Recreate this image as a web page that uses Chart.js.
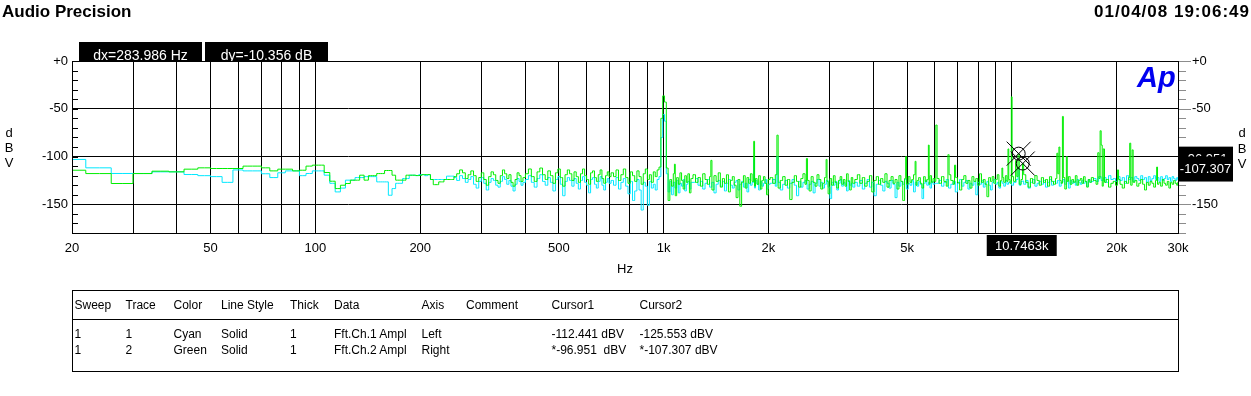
<!DOCTYPE html>
<html>
<head>
<meta charset="utf-8">
<title>Audio Precision FFT</title>
<script src="https://cdn.jsdelivr.net/npm/chart.js@4.4.1/dist/chart.umd.min.js"></script>
<style>
    body { margin: 0; background: #fff; }
    #wrap { position: relative; width: 1251px; height: 396px; overflow: hidden; font-family: 'Liberation Sans', Arial, sans-serif; color: #000; }
    #apChart { position: absolute; left: 0; top: 0; }
    .abs { position: absolute; white-space: pre; }
    .title { left: 2px; top: 2.6px; font-size: 17px; line-height: 17px; font-weight: bold; }
    .date { right: 1px; top: 2.9px; font-size: 17px; line-height: 17px; font-weight: bold; letter-spacing: 1px; }
    .readout { top: 42px; width: 123px; height: 19px; background: #000; color: #fff; font-size: 14px; line-height: 26px; text-align: center; overflow: hidden; }
    .logo { left: 1137px; top: 63px; font-size: 29px; line-height: 29px; font-weight: bold; font-style: italic; color: #0000f0; }
    .unit { width: 14px; text-align: center; font-size: 13px; line-height: 13px; }
    .hz { left: 605px; top: 262px; width: 40px; text-align: center; font-size: 13px; line-height: 13px; }
    .table { left: 72px; top: 290px; width: 1107px; height: 82px; box-sizing: border-box; border: 1px solid #000; }
    .sep { left: 72px; top: 319px; width: 1107px; height: 1px; background: #000; }
    .cell { font-size: 12px; line-height: 12px; }
</style>
</head>
<body>
<div id="wrap">
    <canvas id="apChart" width="1251" height="396"></canvas>

    <div class="abs title">Audio Precision</div>
    <div class="abs date">01/04/08 19:06:49</div>
    <div class="abs readout" style="left:79px">dx=283.986 Hz</div>
    <div class="abs readout" style="left:205px">dy=-10.356 dB</div>
    <div class="abs logo">Ap</div>

    <div class="abs unit" style="left:2px;top:126px">d</div>
    <div class="abs unit" style="left:2px;top:141px">B</div>
    <div class="abs unit" style="left:2px;top:156px">V</div>
    <div class="abs unit" style="left:1235px;top:125.7px">d</div>
    <div class="abs unit" style="left:1235px;top:141.7px">B</div>
    <div class="abs unit" style="left:1235px;top:157.3px">V</div>
    <div class="abs hz">Hz</div>

    <div class="abs table"></div>
    <div class="abs sep"></div>
    <div id="legendTable"></div>
</div>

<script>
// ---- data ----

// low end: 4 Hz FFT bins, drawn as steps
const freqLow = [20, 24, 28, 32, 36, 40, 44, 48, 52, 56,
    60, 64, 68, 72, 76, 80, 84, 88, 92, 96,
    100, 104, 108, 112, 116, 120, 124, 128, 132, 136,
    140, 144, 148, 152, 156, 160, 164, 168, 172, 176,
    180, 184, 188, 192, 196, 200, 204, 208, 212, 216,
    220, 224, 228, 232, 236, 240, 244, 248];

const cyanLow = [-103, -111.8, -117.7, -117.7, -116, -116, -118.8, -120, -121, -127,
    -114, -115, -115, -118, -122, -117, -115, -115, -120, -117.7,
    -115, -115, -119.5, -128, -137, -133, -124.7, -124.7, -122, -122,
    -121, -121, -121, -126.5, -126.5, -126.5, -140.5, -133.5, -128, -128,
    -123, -123, -119.5, -119.5, -120, -119, -118.9, -120, -119, -124,
    -124, -124, -124, -124, -124, -120.5, -120.5, -120.5];

const greenLow = [-114.3, -117.8, -128.2, -117.8, -115.3, -116, -113.2, -111.8, -112.5, -112.5,
    -112.5, -110, -110, -111.8, -115, -113.2, -113.2, -115, -114.3, -110,
    -109, -109, -116.7, -125.8, -133.5, -130, -128.2, -124.7, -124.7, -119.5,
    -124.7, -120, -120, -117.8, -117.8, -114.6, -114.6, -119.5, -124.7, -124.7,
    -124.7, -119.5, -119.5, -119.5, -119.8, -119.8, -118.9, -118.9, -118.9, -124,
    -129.4, -129.4, -126.5, -126.5, -124, -124, -124, -124];

// upper part: thinned noise floor
const freqHigh = [
    252, 257, 262, 267, 272, 277, 282, 287, 292, 297, 302, 307, 312, 317, 322, 327, 332, 337, 342, 347,
    352, 357, 362, 367, 372, 377, 382, 387, 392, 397,
    405, 413, 421, 429, 437, 445, 453, 461, 469, 477, 485, 493, 501, 509, 517, 525, 533, 541, 549, 557,
    565, 573, 581, 589, 597, 605, 613, 621, 629, 637, 645, 653, 661, 669, 677, 685, 693, 701,
    712, 724, 736, 748, 760, 772, 784, 796, 808, 820, 832, 844, 856, 868, 880, 892, 904, 916, 928, 940,
    952, 964, 976, 988, 1000, 1012, 1024, 1036, 1048, 1060, 1072, 1084, 1096, 1108, 1120, 1132, 1144, 1156, 1168, 1180,
    1192, 1204,
    1225, 1245, 1265, 1285, 1305, 1325, 1345, 1365, 1385, 1405, 1425, 1445, 1465, 1485, 1505, 1525, 1545, 1565, 1585, 1605,
    1625, 1645, 1665, 1685, 1705, 1725, 1745, 1765, 1785, 1805, 1825, 1845, 1865, 1885, 1905, 1925, 1945, 1965, 1985, 2005,
    2040, 2075, 2110, 2145, 2180, 2215, 2250, 2285, 2320, 2355, 2390, 2425, 2460, 2495, 2530, 2565, 2600, 2635, 2670, 2705,
    2740, 2775, 2810, 2845, 2880, 2915, 2950, 2985, 3020, 3055, 3090, 3125, 3160, 3195, 3230, 3265, 3300, 3335, 3370, 3405,
    3440, 3475, 3510,
    3570, 3630, 3690, 3750, 3810, 3870, 3930, 3990, 4050, 4110, 4170, 4230, 4290, 4350, 4410, 4470, 4530, 4590, 4650, 4710,
    4770, 4830, 4890, 4950, 5010, 5070, 5130, 5190, 5250, 5310, 5370, 5430, 5490, 5550, 5610, 5670, 5730, 5790, 5850, 5910,
    5970, 6030,
    6130, 6230, 6330, 6430, 6530, 6630, 6730, 6830, 6930, 7030, 7130, 7230, 7330, 7430, 7530, 7630, 7730, 7830, 7930, 8030,
    8130, 8230, 8330, 8430, 8530, 8630, 8730, 8830, 8930, 9030, 9130, 9230, 9330, 9430, 9530, 9630, 9730, 9830, 9930, 10030,
    10200, 10370, 10540, 10710, 10880, 11050, 11220, 11390, 11560, 11730, 11900, 12070, 12240, 12410, 12580, 12750, 12920, 13090, 13260, 13430,
    13600, 13770, 13940, 14110, 14280, 14450, 14620, 14790, 14960, 15130, 15300, 15470, 15640, 15810, 15980, 16150, 16320, 16490, 16660, 16830,
    17000,
    17300, 17600, 17900, 18200, 18500, 18800, 19100, 19400, 19700, 20000, 20300, 20600, 20900, 21200, 21500, 21800, 22100, 22400, 22700, 23000,
    23300, 23600, 23900, 24200, 24500, 24800, 25100, 25400, 25700, 26000, 26300, 26600, 26900, 27200, 27500, 27800, 28100, 28400, 28700, 29000,
    29300, 29600, 29900, 30000
];

const cyanHigh = [
    -122, -125, -120, -123, -127, -124, -121, -129, -133, -126, -122, -128, -135, -127, -123, -125, -130, -132, -126, -121,
    -124, -129, -125, -131, -136, -129, -123, -126, -130, -127,
    -124, -120, -127, -132, -123, -119, -126, -130, -122, -127, -136, -124, -121, -129, -141, -126, -122, -125, -131, -123,
    -128, -134, -125, -121, -127, -130, -138, -124, -122, -129, -133, -126, -121, -130, -135, -127, -123, -128,
    -125, -130, -122, -134, -127, -123, -131, -139, -126, -146, -136, -124, -135, -156, -127, -131, -151, -126, -133, -129,
    -135, -124, -121, -80, -56, -63, -118, -137, -126, -140, -127, -133, -125, -138, -128, -131, -124, -136, -129, -126,
    -134, -127,
    -127, -123, -130, -126, -134, -128, -124, -132, -127, -138, -129, -125, -131, -126, -136, -128, -124, -130, -133, -127,
    -125, -135, -129, -126, -132, -128, -137, -124, -130, -127, -133, -125, -129, -135, -126, -131, -128, -124, -134, -129,
    -128, -124, -131, -127, -135, -129, -125, -133, -128, -124, -130, -141, -126, -132, -127, -125, -134, -129, -126, -138,
    -128, -124, -131, -127, -133, -129, -125, -132, -144, -127, -130, -126, -135, -128, -124, -131, -127, -129, -136, -125,
    -130, -128, -132,
    -127, -131, -125, -134, -128, -124, -132, -127, -141, -129, -125, -130, -136, -126, -128, -133, -125, -129, -143, -127,
    -131, -126, -129, -124, -134, -128, -130, -125, -137, -127, -131, -126, -129, -144, -128, -125, -130, -127, -133, -126,
    -129, -128,
    -128, -125, -131, -127, -124, -133, -129, -126, -137, -128, -124, -131, -127, -125, -134, -128, -130, -126, -140, -127,
    -129, -125, -132, -128, -126, -130, -135, -127, -124, -129, -127, -133, -126, -128, -131, -125, -129, -127, -126, -130,
    -127, -124, -130, -126, -129, -125, -133, -127, -124, -131, -128, -126, -129, -125, -132, -127, -124, -130, -126, -128,
    -125, -131, -127, -124, -129, -126, -133, -125, -128, -126, -130, -124, -127, -129, -125, -128, -126, -131, -124, -127,
    -126,
    -123, -126, -121, -125, -122, -127, -120, -124, -123, -126, -121, -125, -122, -128, -120, -124, -122, -126, -121, -123,
    -125, -120, -124, -122, -127, -121, -125, -123, -120, -124, -122, -126, -121, -125, -123, -120, -124, -122, -126, -121,
    -123, -125, -122, -124
];

const greenHigh = [
    -121, -118, -114, -117, -123, -119, -115, -120, -126, -122, -117, -124, -130, -121, -116, -119, -125, -128, -120, -114,
    -118, -123, -119, -127, -131, -124, -117, -120, -126, -122,
    -118, -113, -121, -126, -116, -112, -119, -124, -115, -120, -128, -117, -113, -122, -131, -119, -114, -118, -125, -116,
    -121, -127, -118, -113, -120, -124, -129, -117, -115, -122, -126, -119, -114, -123, -128, -120, -116, -121,
    -117, -121, -114, -125, -119, -113, -122, -128, -116, -120, -126, -115, -121, -129, -118, -113, -124, -119, -127, -116,
    -121, -114, -111, -60, -36.5, -43, -112, -146, -124, -131, -118, -141, -122, -129, -117, -125, -134, -120, -127, -118,
    -138, -123,
    -119, -127, -122, -131, -118, -124, -129, -121, -135, -120, -126, -117, -132, -123, -128, -119, -137, -125, -121, -130,
    -143, -124, -152, -127, -120, -133, -122, -128, -118, -126, -131, -123, -129, -120, -134, -125, -121, -128, -140, -124,
    -122, -128, -119, -133, -125, -121, -130, -124, -145, -127, -120, -126, -132, -123, -118, -129, -125, -136, -121, -127,
    -131, -119, -124, -134, -128, -122, -126, -139, -123, -130, -120, -127, -133, -125, -121, -129, -124, -131, -118, -126,
    -135, -122, -128,
    -124, -119, -128, -122, -131, -126, -120, -137, -125, -121, -129, -123, -127, -118, -132, -125, -121, -128, -124, -134,
    -120, -126, -146, -123, -129, -121, -127, -124, -119, -130, -125, -122, -128, -133, -121, -126, -124, -129, -120, -127,
    -123, -126,
    -123, -128, -121, -126, -131, -119, -125, -129, -122, -127, -135, -124, -120, -128, -125, -133, -121, -126, -123, -130,
    -118, -127, -124, -129, -142, -122, -126, -121, -128, -124, -119, -131, -125, -122, -127, -120, -126, -124, -128, -121,
    -126, -121, -129, -124, -119, -127, -132, -123, -128, -120, -125, -130, -122, -127, -124, -131, -121, -126, -129, -123,
    -118, -125, -128, -122, -134, -126, -121, -129, -124, -127, -120, -130, -125, -123, -128, -121, -126, -132, -124, -127,
    -122,
    -125, -129, -123, -131, -127, -124, -132, -128, -126, -130, -124, -129, -133, -126, -128, -122, -130, -127, -125, -131,
    -128, -124, -129, -135, -127, -130, -126, -128, -132, -125, -129, -127, -131, -124, -128, -130, -126, -133, -127, -129,
    -125, -128, -130, -127
];

// harmonics / spurs sticking out of the floor [Hz, dBV]
const greenSpurs = [[1076, -108], [1368, -104], [1824, -84], [2120, -77.6], [2576, -102], [2942, -103],
    [4960, -100], [5300, -105], [5786, -88], [6068, -67], [6576, -98], [6860, -109], [9400, -112],
    [9766, -92], [10000, -37.5], [10300, -104], [10462, -96.951], [10746.3, -107.307], [13500, -96.5],
    [13700, -90], [14000, -58], [14400, -100], [17700, -96], [17950, -73], [18150, -88], [18400, -92],
    [20200, -114], [21800, -86], [22200, -93], [26100, -111]];
const cyanSpurs = [[1824, -102], [2120, -100], [10462, -112.441], [10746.3, -125.553]];

// cursors
const cursorFreq = [10462, 10746.3];
const cursorGreen = [-96.951, -107.307];

// axes
const gridFreqs = [20, 30, 40, 50, 60, 70, 80, 90, 100, 200, 300, 400, 500, 600, 700, 800, 900,
    1000, 2000, 3000, 4000, 5000, 6000, 7000, 8000, 9000, 10000, 20000, 30000];
const xLabelFreqs = [20, 50, 100, 200, 500, 1000, 2000, 5000, 10000, 20000, 30000];
const xLabelText = ['20', '50', '100', '200', '500', '1k', '2k', '5k', '10k', '20k', '30k'];

// legend table rows
const tableCols = [74.5, 125.5, 173.5, 221, 290, 334, 421.5, 466, 551.5, 639.5];
const tableHead = ['Sweep', 'Trace', 'Color', 'Line Style', 'Thick', 'Data', 'Axis', 'Comment', 'Cursor1', 'Cursor2'];
const tableRows = [
    ['1', '1', 'Cyan', 'Solid', '1', 'Fft.Ch.1 Ampl', 'Left', '', '-112.441 dBV', '-125.553 dBV'],
    ['1', '2', 'Green', 'Solid', '1', 'Fft.Ch.2 Ampl', 'Right', '', '*-96.951  dBV', '*-107.307 dBV']
];

const FONT = "'Liberation Sans', Arial, sans-serif";

function buildSeries(lowDb, highDb, spurs) {
    const pts = [];
    freqLow.forEach((f, i) => pts.push({ x: f, y: lowDb[i] }));
    freqHigh.forEach((f, i) => pts.push({ x: f, y: highDb[i] }));
    spurs.forEach(([f, db]) => pts.push({ x: f, y: db }));
    return pts.sort((a, b) => a.x - b.x);
}

function buildTable() {
    const host = document.getElementById('legendTable');
    const tops = [298.5, 327.8, 343.5];
    [tableHead, ...tableRows].forEach((row, r) => {
        row.forEach((txt, c) => {
            if (!txt) return;
            const span = document.createElement('div');
            span.className = 'abs cell';
            span.style.left = tableCols[c] + 'px';
            span.style.top = tops[r] + 'px';
            span.textContent = txt;
            host.appendChild(span);
        });
    });
}

const apDecor = {
    id: 'apDecor',
    afterDatasetsDraw(chart) {
        const { ctx, chartArea: a, scales: { x, y2 } } = chart;
        ctx.save();
        ctx.lineWidth = 1;

        // plot frame
        ctx.strokeStyle = '#000';
        ctx.strokeRect(a.left + 0.5, a.top + 0.5, a.right - a.left, a.bottom - a.top);

        // left ticks (inside, black) and right ticks (outside, grey)
        for (let v = 0; v >= -180; v -= 10) {
            const py = Math.round(y2.getPixelForValue(v)) + 0.5;
            ctx.strokeStyle = '#000';
            ctx.beginPath();
            ctx.moveTo(a.left, py);
            ctx.lineTo(a.left + 6, py);
            ctx.stroke();
            ctx.strokeStyle = '#8c8c8c';
            ctx.beginPath();
            ctx.moveTo(a.right + 1, py);
            ctx.lineTo(a.right + (v % 50 === 0 ? 13 : 8), py);
            ctx.stroke();
        }

        // cursor markers
        ctx.strokeStyle = '#000';
        cursorFreq.forEach((f, i) => {
            const px = x.getPixelForValue(f);
            const py = y2.getPixelForValue(cursorGreen[i]);
            ctx.beginPath();
            ctx.arc(px, py, 6.5, 0, Math.PI * 2);
            ctx.moveTo(px - 12, py - 12);
            ctx.lineTo(px + 12, py + 12);
            ctx.moveTo(px - 12, py + 12);
            ctx.lineTo(px + 12, py - 12);
            ctx.stroke();
        });
        ctx.restore();
    },
    afterDraw(chart) {
        const { ctx, chartArea: a, scales: { x, y2 } } = chart;
        ctx.save();
        ctx.font = '13px ' + FONT;
        ctx.textAlign = 'center';
        ctx.textBaseline = 'middle';

        // y readouts on the right axis
        cursorFreq.forEach((f, i) => {
            const py = y2.getPixelForValue(cursorGreen[i]);
            ctx.fillStyle = '#000';
            ctx.fillRect(a.right, py - 7, 55, 25);
            ctx.fillStyle = '#fff';
            ctx.fillText(cursorGreen[i].toFixed(3), a.right + 27.5, py + 5.5);
        });

        // x readout for the active cursor
        const px = x.getPixelForValue(cursorFreq[1]);
        ctx.fillStyle = '#000';
        ctx.fillRect(px - 36, a.bottom + 2, 70, 21);
        ctx.fillStyle = '#fff';
        ctx.fillText((cursorFreq[1] / 1000).toFixed(4) + 'k', px - 1, a.bottom + 13);
        ctx.restore();
    }
};

function yLabel(v) {
    if (v % 50 !== 0 || v < -150) return '';
    return v === 0 ? '+0' : String(v);
}

function renderChart() {
    const canvas = document.getElementById('apChart');
    if (!canvas || typeof Chart === 'undefined') return;

    Chart.defaults.font.family = FONT;
    Chart.defaults.font.size = 13;
    Chart.defaults.color = '#000';

    new Chart(canvas, {
        type: 'line',
        data: {
            datasets: [{
                label: 'Fft.Ch.2 Ampl',
                data: buildSeries(greenLow, greenHigh, greenSpurs),
                yAxisID: 'y2',
                borderColor: '#00ee00',
                borderWidth: 1,
                pointRadius: 0,
                stepped: 'middle',
                order: 0
            }, {
                label: 'Fft.Ch.1 Ampl',
                data: buildSeries(cyanLow, cyanHigh, cyanSpurs),
                yAxisID: 'y',
                borderColor: '#00e8ff',
                borderWidth: 1,
                pointRadius: 0,
                stepped: 'middle',
                order: 1
            }]
        },
        options: {
            responsive: false,
            animation: false,
            events: [],
            layout: { padding: { top: 61, left: 0, right: 0, bottom: 0 } },
            scales: {
                x: {
                    type: 'logarithmic',
                    min: 20,
                    max: 30000,
                    afterBuildTicks: scale => {
                        scale.ticks = gridFreqs.map(v => ({ value: v }));
                    },
                    afterFit: scale => { scale.height = 163; },
                    border: { display: false },
                    grid: { color: '#000', lineWidth: 1, drawTicks: false },
                    ticks: {
                        autoSkip: false,
                        maxRotation: 0,
                        padding: 8,
                        callback: value => {
                            const i = xLabelFreqs.indexOf(value);
                            return i >= 0 ? xLabelText[i] : '';
                        }
                    }
                },
                y: {
                    type: 'linear',
                    position: 'left',
                    min: -180,
                    max: 0,
                    afterFit: scale => { scale.width = 72; },
                    border: { display: false },
                    grid: {
                        drawTicks: false,
                        lineWidth: 1,
                        color: c => (c.tick.value % 50 === 0 ? '#000' : 'rgba(0,0,0,0)')
                    },
                    ticks: { stepSize: 10, autoSkip: false, padding: 4, callback: yLabel }
                },
                y2: {
                    type: 'linear',
                    position: 'right',
                    min: -180,
                    max: 0,
                    afterFit: scale => { scale.width = 73; },
                    border: { display: false },
                    grid: { drawOnChartArea: false, drawTicks: false },
                    ticks: { stepSize: 10, autoSkip: false, padding: 14, callback: yLabel }
                }
            },
            plugins: {
                legend: { display: false },
                tooltip: { enabled: false }
            }
        },
        plugins: [apDecor]
    });
}

document.addEventListener('DOMContentLoaded', () => {
    buildTable();
    renderChart();
});
</script>
</body>
</html>
